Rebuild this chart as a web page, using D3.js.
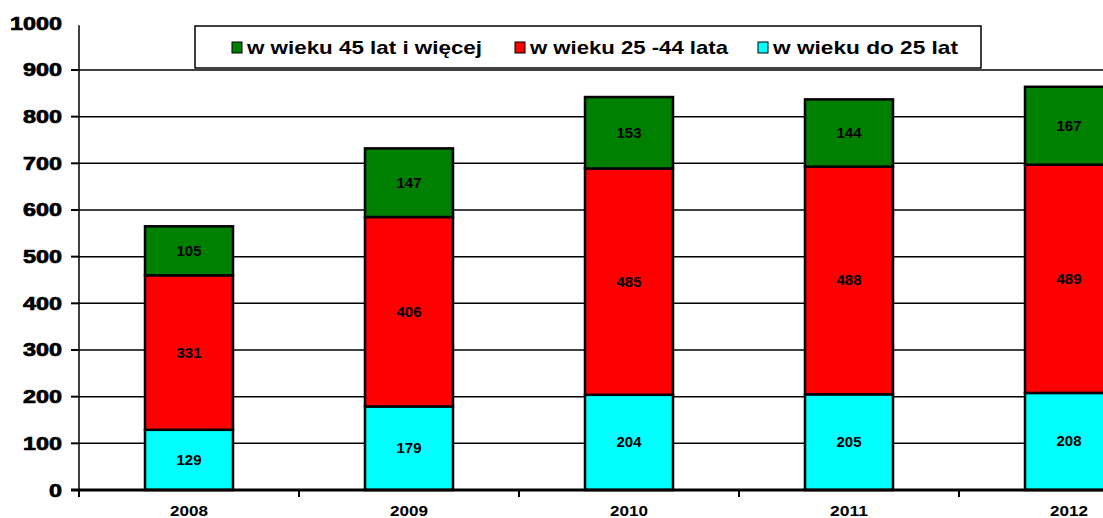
<!DOCTYPE html>
<html>
<head>
<meta charset="utf-8">
<script src="https://cdn.jsdelivr.net/npm/d3@7"></script>
<style>
  html, body { margin: 0; padding: 0; background: #fff; }
  svg { display: block; font-family: "Liberation Sans", Arial, sans-serif; }
</style>
</head>
<body>
<div id="chart"></div>
<script>
// data
const years = ["2008", "2009", "2010", "2011", "2012"];
const youngValues = [129, 179, 204, 205, 208];   // w wieku do 25 lat
const middleValues = [331, 406, 485, 488, 489];  // w wieku 25 -44 lata
const olderValues = [105, 147, 153, 144, 167];   // w wieku 45 lat i więcej
const seriesNames = ["w wieku do 25 lat", "w wieku 25 -44 lata", "w wieku 45 lat i więcej"];
const seriesColors = ["#00ffff", "#ff0000", "#008000"];
const yTicks = [0, 100, 200, 300, 400, 500, 600, 700, 800, 900, 1000];

const width = 1103, height = 518;

const svg = d3.select("#chart")
  .append("svg")
  .attr("width", width)
  .attr("height", height);

// plot runs past the right edge, like the cropped original
const x = d3.scaleBand()
  .domain(years)
  .range([79, 1179])
  .paddingInner(0.6)
  .paddingOuter(0.3);

const y = d3.scaleLinear()
  .domain([0, 1000])
  .range([490, 23.3]);

// gridlines
svg.append("g")
  .selectAll("line")
  .data(yTicks.filter(d => d > 0 && d < 1000))
  .enter()
  .append("line")
  .attr("x1", 79)
  .attr("x2", width)
  .attr("y1", d => y(d))
  .attr("y2", d => y(d))
  .attr("stroke", "#000")
  .attr("stroke-width", 1.5);

// y axis
svg.append("line")
  .attr("x1", 79).attr("x2", 79)
  .attr("y1", y(1000) + 2).attr("y2", y(0))
  .attr("stroke", "#000").attr("stroke-width", 1.5);

svg.append("g")
  .selectAll("line")
  .data(yTicks.filter(d => d < 1000))
  .enter()
  .append("line")
  .attr("x1", 71).attr("x2", 79)
  .attr("y1", d => y(d)).attr("y2", d => y(d))
  .attr("stroke", "#000").attr("stroke-width", 2);

svg.append("g")
  .selectAll("text")
  .data(yTicks)
  .enter()
  .append("text")
  .attr("x", 62)
  .attr("y", d => y(d) + 6.5)
  .attr("text-anchor", "end")
  .attr("font-size", 18)
  .attr("font-weight", "bold")
  .attr("stroke", "#000")
  .attr("stroke-width", 0.7)
  .attr("textLength", d => String(d).length * 13)
  .attr("lengthAdjust", "spacingAndGlyphs")
  .text(d => d);

// stacked bars
const rows = years.map((yr, i) => ({
  year: yr, young: youngValues[i], middle: middleValues[i], older: olderValues[i]
}));
const stack = d3.stack().keys(["young", "middle", "older"])(rows);

const layers = svg.append("g")
  .selectAll("g")
  .data(stack)
  .enter()
  .append("g")
  .attr("fill", (d, i) => seriesColors[i]);

layers.selectAll("rect")
  .data(d => d)
  .enter()
  .append("rect")
  .attr("x", d => x(d.data.year))
  .attr("width", x.bandwidth())
  .attr("y", d => y(d[1]))
  .attr("height", d => y(d[0]) - y(d[1]))
  .attr("stroke", "#000")
  .attr("stroke-width", 2.5);

layers.selectAll("text")
  .data(d => d)
  .enter()
  .append("text")
  .attr("x", d => x(d.data.year) + x.bandwidth() / 2)
  .attr("y", d => (y(d[0]) + y(d[1])) / 2 + 5)
  .attr("text-anchor", "middle")
  .attr("font-size", 15)
  .attr("font-weight", "bold")
  .attr("fill", "#000")
  .text(d => d[1] - d[0]);

// x axis
svg.append("line")
  .attr("x1", 71).attr("x2", width)
  .attr("y1", y(0)).attr("y2", y(0))
  .attr("stroke", "#000").attr("stroke-width", 3);

svg.append("g")
  .selectAll("line")
  .data(d3.range(years.length + 1))
  .enter()
  .append("line")
  .attr("x1", i => 79 + i * x.step())
  .attr("x2", i => 79 + i * x.step())
  .attr("y1", y(0)).attr("y2", y(0) + 7)
  .attr("stroke", "#000").attr("stroke-width", 2);

svg.append("g")
  .selectAll("text")
  .data(years)
  .enter()
  .append("text")
  .attr("x", d => x(d) + x.bandwidth() / 2)
  .attr("y", 516)
  .attr("text-anchor", "middle")
  .attr("font-size", 14)
  .attr("font-weight", "bold")
  .attr("textLength", 38)
  .attr("lengthAdjust", "spacingAndGlyphs")
  .text(d => d);

// legend
const legend = svg.append("g");
legend.append("rect")
  .attr("x", 195).attr("y", 26)
  .attr("width", 786).attr("height", 42)
  .attr("fill", "#fff")
  .attr("stroke", "#000")
  .attr("stroke-width", 1.5);

const legendItems = [
  { name: seriesNames[2], color: seriesColors[2], x: 232, w: 235 },
  { name: seriesNames[1], color: seriesColors[1], x: 515, w: 198 },
  { name: seriesNames[0], color: seriesColors[0], x: 758, w: 185 }
];

const li = legend.selectAll("g.item")
  .data(legendItems)
  .enter()
  .append("g")
  .attr("class", "item");

li.append("rect")
  .attr("x", d => d.x)
  .attr("y", 42)
  .attr("width", 10)
  .attr("height", 11)
  .attr("fill", d => d.color)
  .attr("stroke", "#000")
  .attr("stroke-width", 1);

li.append("text")
  .attr("x", d => d.x + 15)
  .attr("y", 54)
  .attr("font-size", 19)
  .attr("font-weight", "bold")
  .attr("textLength", d => d.w)
  .attr("lengthAdjust", "spacingAndGlyphs")
  .text(d => d.name);
</script>
</body>
</html>
